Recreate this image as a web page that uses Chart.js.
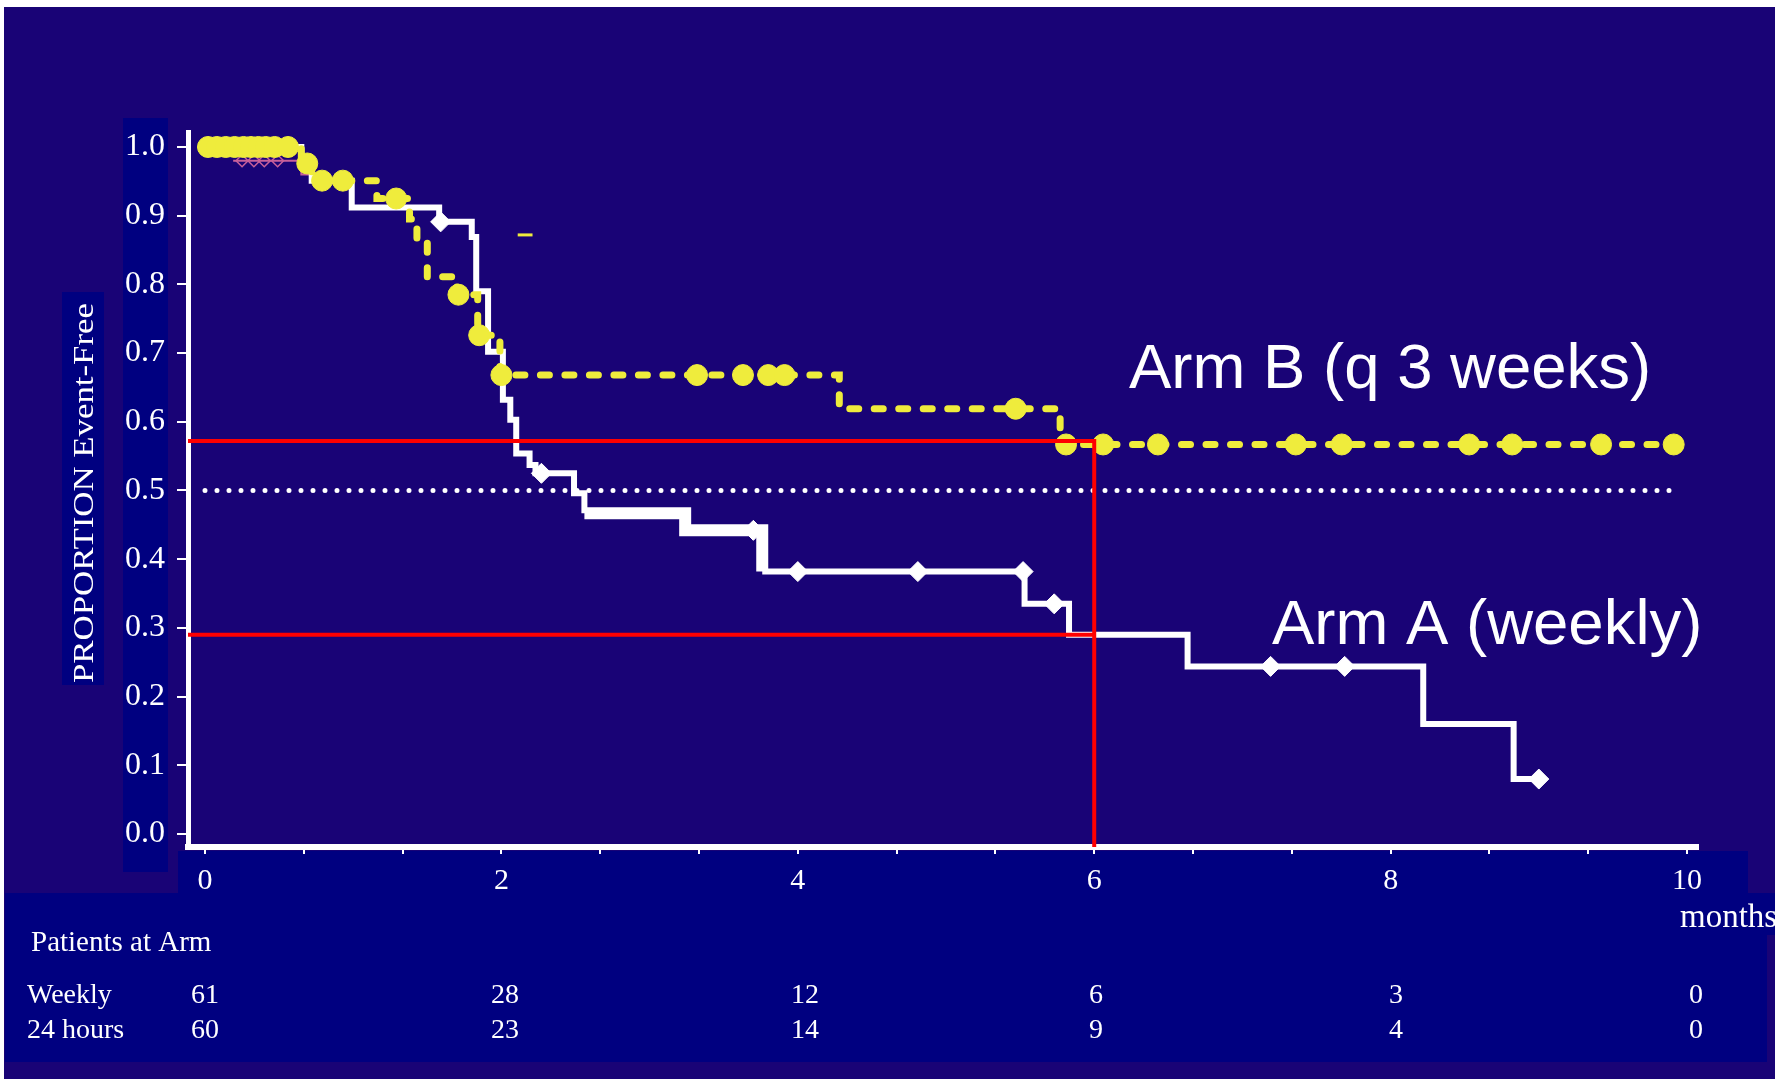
<!DOCTYPE html>
<html>
<head>
<meta charset="utf-8">
<title>Event-free proportion by arm</title>
<style>
  html, body { margin: 0; padding: 0; background: #ffffff; overflow: hidden; }
  canvas { display: block; }
</style>
<script src="https://cdn.jsdelivr.net/npm/chart.js@4.4.1/dist/chart.umd.min.js"></script>
</head>
<body>
<canvas id="km" width="1775" height="1079"></canvas>
<script>
// ---- Kaplan-Meier steps: each value holds from its month until the next one ----
const armAStepMonths = [0, 0.65, 0.72, 0.99, 1.58, 1.80, 1.83, 1.91, 2.01, 2.06, 2.10, 2.19, 2.23, 2.49, 2.56, 3.24, 3.76, 5.53, 5.83, 6.63, 8.22, 8.83, 9.00];
const armAStepValues = [1.0, 0.976, 0.951, 0.912, 0.891, 0.869, 0.790, 0.702, 0.632, 0.603, 0.554, 0.537, 0.525, 0.496, 0.467, 0.442, 0.382, 0.335, 0.290, 0.244, 0.160, 0.080, 0.080];
const armACensorMonths = [1.59, 2.27, 3.70, 4.00, 4.81, 5.52, 5.73, 7.19, 7.69, 9.00];

const armBStepMonths = [0, 0.65, 0.72, 1.16, 1.38, 1.43, 1.50, 1.70, 1.84, 1.99, 4.28, 5.77, 9.95];
const armBStepValues = [1.0, 0.976, 0.951, 0.925, 0.895, 0.862, 0.811, 0.785, 0.726, 0.668, 0.619, 0.567, 0.567];
const armBCensorMonths = [0.02, 0.08, 0.14, 0.20, 0.26, 0.31, 0.36, 0.41, 0.47, 0.56, 0.69, 0.79, 0.93, 1.29, 1.71, 1.85, 2.00, 3.32, 3.63, 3.80, 3.91, 5.47, 5.81, 6.06, 6.43, 7.36, 7.67, 8.53, 8.82, 9.42, 9.91];

// faint underlying trace of the weekly arm in the first months
const traceStepMonths = [0.19, 0.65, 0.75];
const traceStepValues = [0.980, 0.960, 0.960];
const traceCensorMonths = [0.25, 0.33, 0.40, 0.49];

// short detached piece of the q3-weekly curve
const detachedMonths = [2.11, 2.21];
const detachedValue = 0.872;

// median reference and the 6-month read-off
const medianLevel = 0.5;
const medianMonths = [0, 9.9];
const readOffMonth = 6;
const readOffLevels = [0.572, 0.29];

// axes
const yTickValues = [0.0, 0.1, 0.2, 0.3, 0.4, 0.5, 0.6, 0.7, 0.8, 0.9, 1.0];
const xLabelMonths = [0, 2, 4, 6, 8, 10];
const xMinorStep = 2 / 3;
const xMax = 10;

// patients at risk
const riskRowNames = ['Weekly', '24 hours'];
const weeklyAtRisk = [61, 28, 12, 6, 3, 0];
const hours24AtRisk = [60, 23, 14, 9, 4, 0];

// ---- helpers ----
function levelAt(months, values, t) {
  let v = values[0];
  for (let i = 0; i < months.length; i++) { if (months[i] <= t + 1e-9) v = values[i]; }
  return v;
}
const pts = (xs, ys) => xs.map((x, i) => ({ x, y: ys[i] }));
const censorPts = (cm, sm, sv) => cm.map(t => ({ x: t, y: levelAt(sm, sv, t) }));

const X_MIN = -0.1147, X_MAX = 10.074;
const Y_MIN = -0.0189, Y_MAX = 1.0218;

const BG = 'rgb(25,3,118)';
const NAVY = '#000080';
const YELLOW = '#efec3c';
const WHITE = '#ffffff';
const PINK = '#c8609a';
const SERIF = '"Liberation Serif", "Times New Roman", serif';
const SANS = '"Liberation Sans", Arial, sans-serif';

const xMinorTicks = [];
for (let k = 0; k * xMinorStep <= xMax + 1e-6; k++) xMinorTicks.push(+(k * xMinorStep).toFixed(4));

const panels = {
  id: 'panels',
  beforeDraw(chart) {
    const c = chart.ctx;
    c.save();
    c.fillStyle = '#ffffff';
    c.fillRect(0, 0, chart.width, chart.height);
    c.fillStyle = BG;
    c.fillRect(4, 7, chart.width - 4, chart.height - 7);
    c.fillStyle = NAVY;
    c.fillRect(62, 292, 42, 393);      // y title
    c.fillRect(123, 118, 45, 754);     // y tick labels
    c.fillRect(178, 851, 1570, 42);    // x tick labels
    c.fillRect(5, 893, 1762, 169);     // at-risk table
    c.fillRect(1740, 893, 35, 42);     // unit label
    c.restore();
  },
  afterDraw(chart) {
    const c = chart.ctx;
    c.save();
    c.fillStyle = WHITE;

    // y axis title, stretched along its length
    const title = 'PROPORTION Event-Free';
    c.font = '29px ' + SERIF;
    const tw = c.measureText(title).width;
    c.translate(93, 493);
    c.rotate(-Math.PI / 2);
    c.scale(380 / tw, 1);
    c.textAlign = 'center';
    c.textBaseline = 'alphabetic';
    c.fillText(title, 0, 0);
    c.setTransform(1, 0, 0, 1, 0, 0);

    // unit
    c.textAlign = 'left';
    c.font = '33px ' + SERIF;
    c.fillText('months', 1680, 927);

    // at-risk table
    c.font = '29px ' + SERIF;
    c.fillText('Patients at Arm', 31, 951);
    c.font = '28px ' + SERIF;
    c.fillText(riskRowNames[0], 27, 1003);
    c.fillText(riskRowNames[1], 27, 1038);
    const colX = [205, 505, 805, 1096, 1396, 1696];
    c.textAlign = 'center';
    weeklyAtRisk.forEach((n, i) => c.fillText(String(n), colX[i], 1003));
    hours24AtRisk.forEach((n, i) => c.fillText(String(n), colX[i], 1038));

    // arm labels
    c.textAlign = 'left';
    c.font = '63.5px ' + SANS;
    c.fillText('Arm B (q 3 weeks)', 1129, 388);
    c.fillText('Arm A (weekly)', 1272, 644);
    c.restore();
  }
};

new Chart(document.getElementById('km'), {
  type: 'line',
  data: {
    datasets: [
      {
        label: 'median', order: 7,
        data: medianMonths.map(m => ({ x: m, y: medianLevel })),
        borderColor: WHITE, borderWidth: 5, borderDash: [0, 12], borderCapStyle: 'round',
        pointRadius: 0
      },
      {
        label: 'trace', order: 6, stepped: true,
        data: pts(traceStepMonths, traceStepValues),
        borderColor: PINK, borderWidth: 2, pointRadius: 0
      },
      {
        label: 'trace censored', order: 6, showLine: false,
        data: censorPts(traceCensorMonths, traceStepMonths, traceStepValues),
        pointStyle: 'rectRot', pointRadius: 6, pointBackgroundColor: 'rgba(0,0,0,0)',
        pointBorderColor: PINK, pointBorderWidth: 1.5
      },
      {
        label: 'Arm A (weekly)', order: 5, stepped: true,
        data: pts(armAStepMonths, armAStepValues),
        borderColor: WHITE, borderWidth: 6, pointRadius: 0, borderJoinStyle: 'miter',
        segment: {
          borderWidth: ctx => (ctx.p0.parsed.x >= 2.56 && ctx.p0.parsed.x < 3.7) ? 12 : 6
        }
      },
      {
        label: 'Arm A censored', order: 4, showLine: false,
        data: censorPts(armACensorMonths, armAStepMonths, armAStepValues),
        pointStyle: 'rectRot', pointRadius: 10, pointBackgroundColor: WHITE,
        pointBorderColor: WHITE, pointBorderWidth: 1
      },
      {
        label: 'Arm B (q 3 weeks)', order: 3, stepped: true,
        data: pts(armBStepMonths, armBStepValues),
        borderColor: YELLOW, borderWidth: 7, borderDash: [9, 15.5], borderCapStyle: 'round',
        pointRadius: 0
      },
      {
        label: 'Arm B piece', order: 3,
        data: detachedMonths.map(m => ({ x: m, y: detachedValue })),
        borderColor: YELLOW, borderWidth: 3, pointRadius: 0
      },
      {
        label: 'Arm B censored', order: 2, showLine: false,
        data: censorPts(armBCensorMonths, armBStepMonths, armBStepValues),
        pointStyle: 'circle', pointRadius: 10.5, pointBackgroundColor: YELLOW,
        pointBorderColor: YELLOW, pointBorderWidth: 1
      },
      {
        label: 'read-off upper', order: 1,
        data: [{ x: X_MIN, y: readOffLevels[0] }, { x: readOffMonth, y: readOffLevels[0] }, { x: readOffMonth, y: Y_MIN }],
        borderColor: '#ff0000', borderWidth: 4, pointRadius: 0, borderJoinStyle: 'miter'
      },
      {
        label: 'read-off lower', order: 1,
        data: [{ x: X_MIN, y: readOffLevels[1] }, { x: readOffMonth, y: readOffLevels[1] }],
        borderColor: '#ff0000', borderWidth: 4, pointRadius: 0
      }
    ]
  },
  options: {
    responsive: false,
    animation: false,
    devicePixelRatio: 1,
    events: [],
    layout: { padding: { left: 0, right: 77, top: 132, bottom: 0 } },
    plugins: { legend: { display: false }, tooltip: { enabled: false }, title: { display: false } },
    scales: {
      x: {
        type: 'linear', min: X_MIN, max: X_MAX,
        afterFit: s => { s.height = 232; },
        afterBuildTicks: s => { s.ticks = xMinorTicks.map(v => ({ value: v })); },
        grid: { drawOnChartArea: false, drawTicks: true, tickLength: 7, color: WHITE, lineWidth: 2 },
        border: { display: true, color: WHITE, width: 6 },
        ticks: {
          autoSkip: false, maxRotation: 0, padding: 9, color: WHITE,
          font: { family: SERIF, size: 30 },
          callback: v => {
            const r = Math.round(v);
            return (Math.abs(v - r) < 1e-3 && xLabelMonths.includes(r)) ? String(r) : '';
          }
        }
      },
      y: {
        type: 'linear', min: Y_MIN, max: Y_MAX,
        afterFit: s => { s.width = 188; },
        afterBuildTicks: s => { s.ticks = yTickValues.map(v => ({ value: v })); },
        grid: { drawOnChartArea: false, drawTicks: true, tickLength: 11, color: WHITE, lineWidth: 2 },
        border: { display: true, color: WHITE, width: 5 },
        ticks: {
          autoSkip: false, padding: 12, color: WHITE,
          font: { family: SERIF, size: 32 },
          callback: v => Number(v).toFixed(1)
        }
      }
    }
  },
  plugins: [panels]
});
</script>
</body>
</html>
